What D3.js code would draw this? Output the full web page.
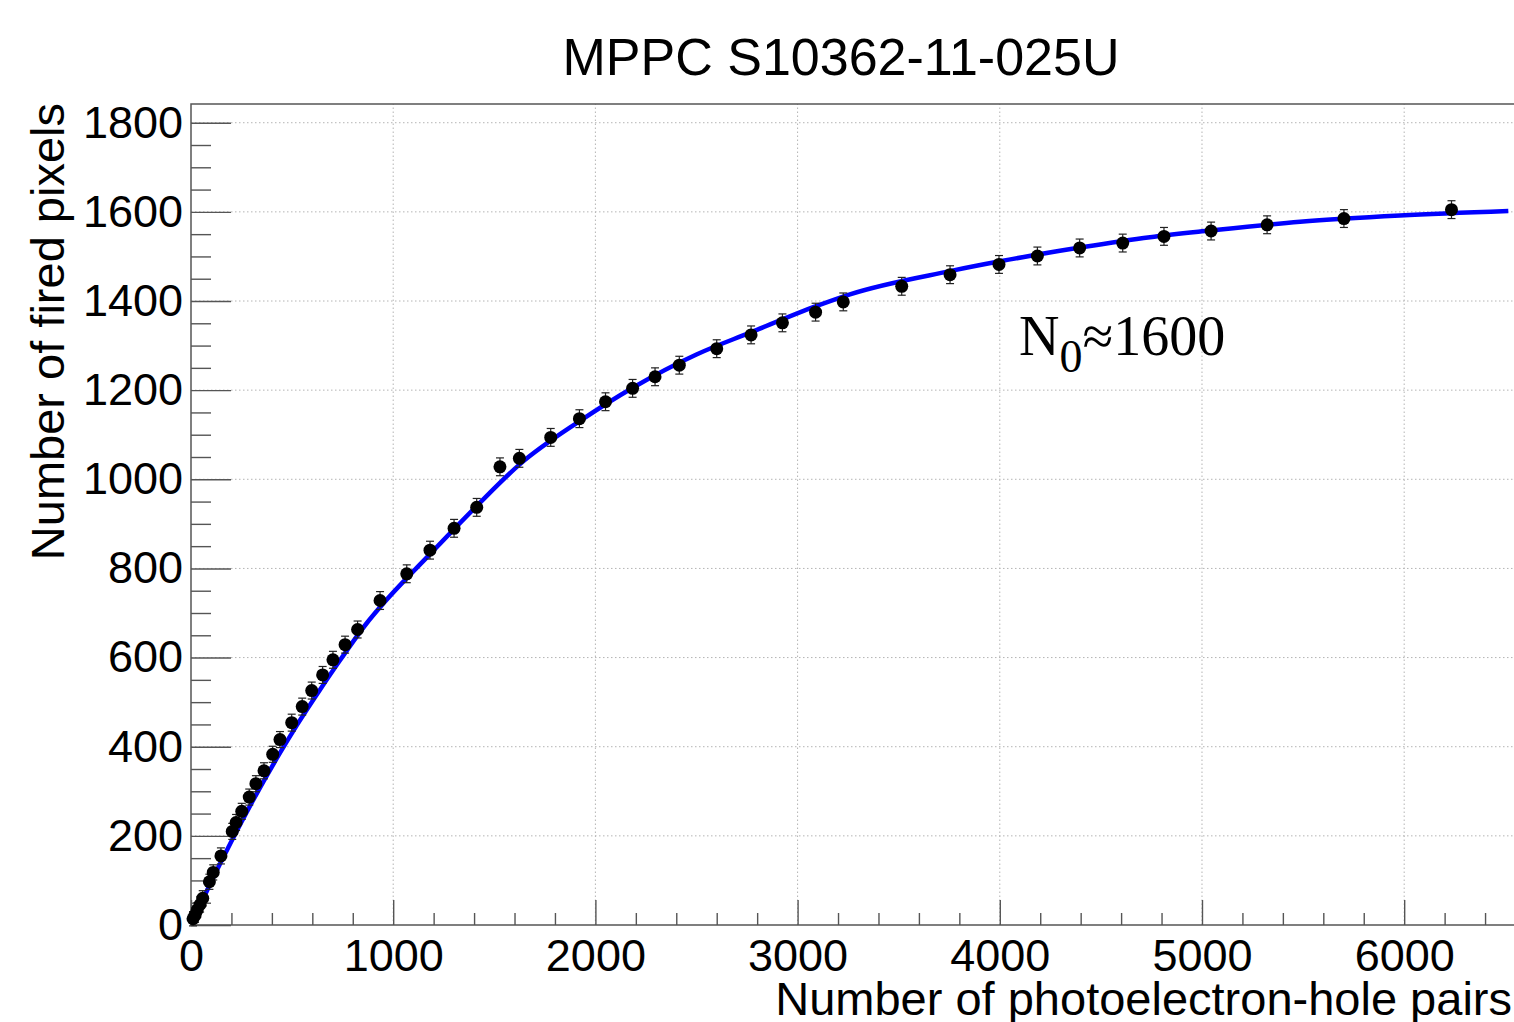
<!DOCTYPE html>
<html>
<head>
<meta charset="utf-8">
<script src="https://cdn.jsdelivr.net/npm/d3@7"></script>
<style>
  html, body { margin: 0; padding: 0; background: #fff; overflow: hidden; }
  svg { display: block; }
</style>
</head>
<body>
<div id="plot"></div>
<script>
// measured points: photoelectron-hole pairs vs fired pixels
var photoPairs = [10, 20, 31, 45, 58, 91, 110, 148, 204, 223, 251, 288, 321, 361, 404, 440,
    498, 550, 597, 651, 702, 762, 824, 935, 1067, 1182, 1301, 1413, 1528, 1624, 1779, 1921,
    2050, 2184, 2295, 2415, 2600, 2770, 2925, 3089, 3226, 3515, 3754, 3996, 4186, 4395,
    4608, 4812, 5045, 5322, 5702, 6234];
var firedPixels = [14, 22, 34, 46, 60, 97, 118, 155, 210, 230, 255, 287, 317, 346, 383, 416,
    454, 490, 526, 561, 595, 629, 663, 728, 788, 841, 890, 937, 1028, 1047, 1094, 1136,
    1174, 1204, 1230, 1256, 1293, 1324, 1351, 1375, 1398, 1433, 1459, 1482, 1501, 1519,
    1530, 1545, 1557, 1571, 1585, 1605];
var pixelErrors = [16, 16, 16, 17, 17, 17, 17, 18, 18, 18, 18, 18, 18, 18, 18, 18,
    19, 19, 19, 19, 19, 19, 19, 20, 20, 20, 20, 20, 20, 20, 20, 20,
    20, 20, 20, 20, 20, 20, 20, 20, 20, 20, 20, 20, 20, 20,
    20, 20, 20, 20, 20, 20];

// fit curve
var fitX = [30, 100, 200, 300, 440, 523, 638, 737, 869, 935, 1182, 1413, 1627, 1924, 2187,
    2500, 2765, 3095, 3259, 3754, 4001, 4413, 4743, 5040, 5485, 5979, 6515];
var fitY = [30, 97, 188, 274, 386, 448, 528, 594, 677, 713, 832, 940, 1034, 1131, 1206,
    1280, 1329, 1389, 1415, 1467, 1489, 1521, 1543, 1558, 1578, 1592, 1602];

var xMajorTicks = [0, 1000, 2000, 3000, 4000, 5000, 6000];
var yMajorTicks = [0, 200, 400, 600, 800, 1000, 1200, 1400, 1600, 1800];
var xMinorTicks = d3.range(0, 6601, 200);
var yMinorTicks = d3.range(0, 1801, 50);

var titleText = "MPPC S10362-11-025U";
var xLabel = "Number of photoelectron-hole pairs";
var yLabel = "Number of fired pixels";

var width = 1514;
var height = 1022;
var frame = { left: 191, right: 1525.5, top: 104, bottom: 925 };
var axisColor = "#555";
var sans = "'Liberation Sans', Arial, Helvetica, sans-serif";

var svg = d3.select("#plot").append("svg")
    .attr("width", width)
    .attr("height", height);

var x = d3.scaleLinear().domain([0, 6600]).range([frame.left, frame.right]);
var y = d3.scaleLinear().domain([0, 1842]).range([frame.bottom, frame.top]);

// grid
var grid = svg.append("g")
    .attr("stroke", "#b4b4b4")
    .attr("stroke-width", 1)
    .attr("stroke-dasharray", "1.5,2.5");
grid.selectAll("line.gx")
    .data(xMajorTicks.filter(d => d > 0))
    .enter().append("line")
    .attr("x1", d => x(d)).attr("x2", d => x(d))
    .attr("y1", frame.bottom).attr("y2", frame.top);
grid.selectAll("line.gy")
    .data(yMajorTicks.filter(d => d > 0))
    .enter().append("line")
    .attr("x1", frame.left).attr("x2", frame.right)
    .attr("y1", d => y(d)).attr("y2", d => y(d));

// axes
var xAxisMajor = d3.axisBottom(x)
    .tickValues(xMajorTicks)
    .tickSizeInner(-25)
    .tickSizeOuter(0)
    .tickPadding(14)
    .tickFormat(d3.format("d"));
var xAxisMinor = d3.axisBottom(x)
    .tickValues(xMinorTicks.filter(d => xMajorTicks.indexOf(d) < 0))
    .tickSizeInner(-12)
    .tickSizeOuter(0)
    .tickFormat("");
var yAxisMajor = d3.axisLeft(y)
    .tickValues(yMajorTicks)
    .tickSizeInner(-40)
    .tickSizeOuter(0)
    .tickPadding(8)
    .tickFormat(d3.format("d"));
var yAxisMinor = d3.axisLeft(y)
    .tickValues(yMinorTicks.filter(d => yMajorTicks.indexOf(d) < 0))
    .tickSizeInner(-20)
    .tickSizeOuter(0)
    .tickFormat("");

function styleAxis(g) {
    g.select(".domain").remove();
    g.selectAll(".tick line").attr("stroke", axisColor).attr("stroke-width", 1.4);
    g.selectAll(".tick text")
        .attr("fill", "#000")
        .style("font-family", sans)
        .style("font-size", "45px");
}

svg.append("g")
    .attr("transform", "translate(0," + frame.bottom + ")")
    .call(xAxisMinor).call(styleAxis);
svg.append("g")
    .attr("transform", "translate(0," + frame.bottom + ")")
    .call(xAxisMajor).call(styleAxis);
svg.append("g")
    .attr("transform", "translate(" + frame.left + ",0)")
    .call(yAxisMinor).call(styleAxis);
svg.append("g")
    .attr("transform", "translate(" + frame.left + ",0)")
    .call(yAxisMajor).call(styleAxis);

// frame
svg.append("rect")
    .attr("x", frame.left)
    .attr("y", frame.top)
    .attr("width", frame.right - frame.left)
    .attr("height", frame.bottom - frame.top)
    .attr("fill", "none")
    .attr("stroke", axisColor)
    .attr("stroke-width", 1.5);

// fit curve
var fitLine = d3.line()
    .x(d => x(d[0]))
    .y(d => y(d[1]))
    .curve(d3.curveMonotoneX);
svg.append("path")
    .datum(d3.zip(fitX, fitY))
    .attr("d", fitLine)
    .attr("fill", "none")
    .attr("stroke", "#0000ff")
    .attr("stroke-width", 4.5);

// data points with error bars
var points = photoPairs.map((px, i) => ({ x: px, y: firedPixels[i], e: pixelErrors[i] }));
var errs = svg.append("g")
    .attr("stroke", "#222")
    .attr("stroke-width", 1.2);
errs.selectAll("line.bar")
    .data(points)
    .enter().append("line")
    .attr("x1", d => x(d.x)).attr("x2", d => x(d.x))
    .attr("y1", d => y(d.y - d.e)).attr("y2", d => y(d.y + d.e));
errs.selectAll("line.capTop")
    .data(points)
    .enter().append("line")
    .attr("x1", d => x(d.x) - 4).attr("x2", d => x(d.x) + 4)
    .attr("y1", d => y(d.y + d.e)).attr("y2", d => y(d.y + d.e));
errs.selectAll("line.capBottom")
    .data(points)
    .enter().append("line")
    .attr("x1", d => x(d.x) - 4).attr("x2", d => x(d.x) + 4)
    .attr("y1", d => y(d.y - d.e)).attr("y2", d => y(d.y - d.e));

svg.append("g").selectAll("circle")
    .data(points)
    .enter().append("circle")
    .attr("cx", d => x(d.x))
    .attr("cy", d => y(d.y))
    .attr("r", 6.5)
    .attr("fill", "#000");

// texts
svg.append("text")
    .attr("x", 841)
    .attr("y", 75)
    .attr("text-anchor", "middle")
    .style("font-family", sans)
    .style("font-size", "52px")
    .text(titleText);

svg.append("text")
    .attr("x", 1512)
    .attr("y", 1015)
    .attr("text-anchor", "end")
    .style("font-family", sans)
    .style("font-size", "47px")
    .text(xLabel);

svg.append("text")
    .attr("transform", "translate(64,103) rotate(-90)")
    .attr("text-anchor", "end")
    .style("font-family", sans)
    .style("font-size", "47px")
    .text(yLabel);

var note = svg.append("text")
    .attr("x", 1019)
    .attr("y", 355)
    .style("font-family", "'Liberation Serif', 'Times New Roman', serif")
    .style("font-size", "56px");
note.append("tspan").text("N");
note.append("tspan").attr("dy", 17).style("font-size", "46px").text("0");
note.append("tspan").attr("dy", -17).text("\u22481600");
</script>
</body>
</html>
